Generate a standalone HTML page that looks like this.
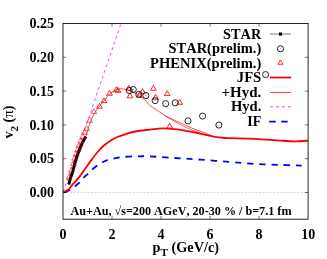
<!DOCTYPE html>
<html><head><meta charset="utf-8"><title>v2</title>
<style>html,body{margin:0;padding:0;background:#fff;overflow:hidden}body{width:327px;height:259px;font-family:"Liberation Serif",serif}</style></head>
<body>
<svg width="327" height="259" viewBox="0 0 327 259" style="display:block">
<rect width="327" height="259" fill="#fff"/>
<defs><clipPath id="c"><rect x="63.0" y="23.5" width="245.1" height="195.7"/></clipPath></defs>
<line x1="63.0" y1="192.4" x2="308.1" y2="192.4" stroke="#b0b0b0" stroke-width="0.5" stroke-dasharray="2 1.5"/>
<g clip-path="url(#c)" fill="none">
<line x1="63.2" y1="192" x2="121.2" y2="23" stroke="#ff40ff" stroke-width="1" stroke-dasharray="3 3"/>
<path d="M63.30 192.60 C63.75 192.47 64.93 192.23 66.00 191.80 C67.07 191.37 68.23 190.90 69.70 190.00 C71.17 189.10 73.18 187.65 74.80 186.40 C76.42 185.15 78.02 183.87 79.40 182.50 C80.78 181.13 81.70 179.65 83.10 178.20 C84.50 176.75 86.48 175.07 87.80 173.80 C89.12 172.53 89.37 172.02 91.00 170.60 C92.63 169.18 95.43 166.82 97.60 165.30 C99.77 163.78 101.93 162.45 104.00 161.50 C106.07 160.55 106.90 160.35 110.00 159.60 C113.10 158.85 117.60 157.55 122.60 157.00 C127.60 156.45 135.43 156.40 140.00 156.30 C144.57 156.20 144.17 156.12 150.00 156.40 C155.83 156.68 166.67 157.47 175.00 158.00 C183.33 158.53 190.83 158.93 200.00 159.60 C209.17 160.27 220.83 161.28 230.00 162.00 C239.17 162.72 246.67 163.42 255.00 163.90 C263.33 164.38 272.22 164.62 280.00 164.90 C287.78 165.18 298.08 165.48 301.70 165.60" stroke="#0000ff" stroke-width="1.8" stroke-dasharray="6.3 5.87" stroke-dashoffset="-1"/>
<path d="M63.30 192.20 C63.75 191.98 65.00 191.47 66.00 190.90 C67.00 190.33 68.22 189.85 69.30 188.80 C70.38 187.75 70.92 186.47 72.50 184.60 C74.08 182.73 76.70 180.23 78.80 177.60 C80.90 174.97 83.02 171.72 85.10 168.80 C87.18 165.88 89.22 162.90 91.30 160.10 C93.38 157.30 95.50 154.43 97.60 152.00 C99.70 149.57 101.82 147.33 103.90 145.50 C105.98 143.67 108.02 142.33 110.10 141.00 C112.18 139.67 114.30 138.47 116.40 137.50 C118.50 136.53 119.60 136.20 122.70 135.20 C125.80 134.20 130.45 132.43 135.00 131.50 C139.55 130.57 145.42 130.13 150.00 129.60 C154.58 129.07 158.33 128.37 162.50 128.30 C166.67 128.23 170.82 128.72 175.00 129.20 C179.18 129.68 183.43 130.45 187.60 131.20 C191.77 131.95 195.83 132.83 200.00 133.70 C204.17 134.57 208.43 135.68 212.60 136.40 C216.77 137.12 221.77 137.70 225.00 138.00 C228.23 138.30 227.00 138.07 232.00 138.20 C237.00 138.33 247.00 138.40 255.00 138.80 C263.00 139.20 273.33 140.18 280.00 140.60 C286.67 141.02 290.25 141.30 295.00 141.30 C299.75 141.30 306.25 140.72 308.50 140.60" stroke="#ff0000" stroke-width="1.8"/>
<path d="M68.80 184.50 C69.08 183.42 69.87 180.08 70.50 178.00 C71.13 175.92 71.98 174.00 72.60 172.00 C73.22 170.00 73.67 168.00 74.20 166.00 C74.73 164.00 75.17 162.08 75.80 160.00 C76.43 157.92 77.20 155.67 78.00 153.50 C78.80 151.33 79.77 149.00 80.60 147.00 C81.43 145.00 82.13 143.23 83.00 141.50 C83.87 139.77 84.97 138.60 85.80 136.60 C86.63 134.60 87.22 132.02 88.00 129.50 C88.78 126.98 89.33 124.33 90.50 121.50 C91.67 118.67 93.42 115.17 95.00 112.50 C96.58 109.83 98.40 107.58 100.00 105.50 C101.60 103.42 102.93 102.00 104.60 100.00 C106.27 98.00 108.05 95.20 110.00 93.50 C111.95 91.80 114.47 90.58 116.30 89.80 C118.13 89.02 119.05 88.77 121.00 88.80 C122.95 88.83 125.67 89.30 128.00 90.00 C130.33 90.70 132.17 91.33 135.00 93.00 C137.83 94.67 142.50 97.92 145.00 100.00 C147.50 102.08 147.08 103.20 150.00 105.50 C152.92 107.80 160.00 112.10 162.50 113.80 C165.00 115.50 162.92 114.58 165.00 115.70 C167.08 116.82 172.43 119.32 175.00 120.50 C177.57 121.68 178.30 121.83 180.40 122.80 C182.50 123.77 185.02 125.15 187.60 126.30 C190.18 127.45 193.23 128.68 195.90 129.70 C198.57 130.72 200.92 131.35 203.60 132.40 C206.28 133.45 210.60 135.40 212.00 136.00" stroke="#ff0000" stroke-width="0.7"/>
<path d="M165.00 115.90 C165.83 116.35 167.83 117.37 170.00 118.60 C172.17 119.83 175.50 121.92 178.00 123.30 C180.50 124.68 182.67 125.78 185.00 126.90 C187.33 128.02 190.17 129.23 192.00 130.00 C193.83 130.77 194.17 130.83 196.00 131.50 C197.83 132.17 200.83 133.28 203.00 134.00 C205.17 134.72 208.00 135.50 209.00 135.80" stroke="#ff0000" stroke-width="0.6"/>
<path d="M68.80 184.50 C69.08 183.42 69.87 180.08 70.50 178.00 C71.13 175.92 71.98 174.00 72.60 172.00 C73.22 170.00 73.67 168.00 74.20 166.00 C74.73 164.00 75.17 162.08 75.80 160.00 C76.43 157.92 77.20 155.67 78.00 153.50 C78.80 151.33 79.77 149.00 80.60 147.00 C81.43 145.00 82.13 143.23 83.00 141.50 C83.87 139.77 85.33 137.42 85.80 136.60" stroke="#000" stroke-width="3"/>
<path d="M69.00 174.19 L66.15 179.05 L71.85 179.05 Z" fill="none" stroke="#ff0000" stroke-width="0.6" stroke-linejoin="round"/>
<path d="M71.30 167.29 L68.45 172.15 L74.15 172.15 Z" fill="none" stroke="#ff0000" stroke-width="0.6" stroke-linejoin="round"/>
<path d="M73.40 160.59 L70.55 165.45 L76.25 165.45 Z" fill="none" stroke="#ff0000" stroke-width="0.6" stroke-linejoin="round"/>
<path d="M74.60 155.19 L71.75 160.05 L77.45 160.05 Z" fill="none" stroke="#ff0000" stroke-width="0.6" stroke-linejoin="round"/>
<path d="M76.30 150.99 L73.45 155.85 L79.15 155.85 Z" fill="none" stroke="#ff0000" stroke-width="0.6" stroke-linejoin="round"/>
<path d="M77.70 146.69 L74.85 151.55 L80.55 151.55 Z" fill="none" stroke="#ff0000" stroke-width="0.6" stroke-linejoin="round"/>
<path d="M79.00 142.39 L76.15 147.25 L81.85 147.25 Z" fill="none" stroke="#ff0000" stroke-width="0.6" stroke-linejoin="round"/>
<path d="M80.90 137.69 L78.05 142.55 L83.75 142.55 Z" fill="none" stroke="#ff0000" stroke-width="0.6" stroke-linejoin="round"/>
<path d="M82.70 133.39 L79.85 138.25 L85.55 138.25 Z" fill="none" stroke="#ff0000" stroke-width="0.6" stroke-linejoin="round"/>
<path d="M84.60 129.39 L81.75 134.25 L87.45 134.25 Z" fill="none" stroke="#ff0000" stroke-width="0.6" stroke-linejoin="round"/>
<path d="M86.50 125.59 L83.65 130.45 L89.35 130.45 Z" fill="none" stroke="#ff0000" stroke-width="0.6" stroke-linejoin="round"/>
<path d="M89.70 117.39 L86.85 122.25 L92.55 122.25 Z" fill="none" stroke="#ff0000" stroke-width="0.6" stroke-linejoin="round"/>
<path d="M93.90 108.69 L91.05 113.55 L96.75 113.55 Z" fill="none" stroke="#ff0000" stroke-width="0.6" stroke-linejoin="round"/>
<path d="M99.50 103.39 L96.65 108.25 L102.35 108.25 Z" fill="none" stroke="#ff0000" stroke-width="0.85" stroke-linejoin="round"/>
<path d="M104.00 97.79 L101.15 102.65 L106.85 102.65 Z" fill="none" stroke="#ff0000" stroke-width="0.85" stroke-linejoin="round"/>
<path d="M109.50 90.39 L106.65 95.25 L112.35 95.25 Z" fill="none" stroke="#ff0000" stroke-width="0.85" stroke-linejoin="round"/>
<path d="M116.30 86.89 L113.45 91.75 L119.15 91.75 Z" fill="none" stroke="#ff0000" stroke-width="0.85" stroke-linejoin="round"/>
<path d="M118.00 87.39 L115.15 92.25 L120.85 92.25 Z" fill="none" stroke="#ff0000" stroke-width="0.85" stroke-linejoin="round"/>
<path d="M128.80 85.39 L125.95 90.25 L131.65 90.25 Z" fill="none" stroke="#ff0000" stroke-width="0.85" stroke-linejoin="round"/>
<path d="M130.00 92.89 L127.15 97.75 L132.85 97.75 Z" fill="none" stroke="#ff0000" stroke-width="0.85" stroke-linejoin="round"/>
<path d="M139.30 92.39 L136.45 97.25 L142.15 97.25 Z" fill="none" stroke="#ff0000" stroke-width="0.85" stroke-linejoin="round"/>
<path d="M142.60 88.69 L139.75 93.55 L145.45 93.55 Z" fill="none" stroke="#ff0000" stroke-width="0.85" stroke-linejoin="round"/>
<path d="M153.40 85.39 L150.55 90.25 L156.25 90.25 Z" fill="none" stroke="#ff0000" stroke-width="0.85" stroke-linejoin="round"/>
<path d="M155.60 94.39 L152.75 99.25 L158.45 99.25 Z" fill="none" stroke="#ff0000" stroke-width="0.85" stroke-linejoin="round"/>
<path d="M167.20 90.69 L164.35 95.55 L170.05 95.55 Z" fill="none" stroke="#ff0000" stroke-width="0.85" stroke-linejoin="round"/>
<path d="M179.70 99.39 L176.85 104.25 L182.55 104.25 Z" fill="none" stroke="#ff0000" stroke-width="0.85" stroke-linejoin="round"/>
<path d="M169.70 123.29 L166.85 128.15 L172.55 128.15 Z" fill="none" stroke="#ff0000" stroke-width="0.85" stroke-linejoin="round"/>
<circle cx="129.30" cy="90.50" r="3.05" fill="none" stroke="#000" stroke-width="0.85"/><circle cx="129.30" cy="90.50" r="0.4" fill="#000"/>
<circle cx="133.30" cy="89.50" r="3.05" fill="none" stroke="#000" stroke-width="0.85"/><circle cx="133.30" cy="89.50" r="0.4" fill="#000"/>
<circle cx="138.80" cy="94.30" r="3.05" fill="none" stroke="#000" stroke-width="0.85"/><circle cx="138.80" cy="94.30" r="0.4" fill="#000"/>
<circle cx="145.90" cy="95.50" r="3.05" fill="none" stroke="#000" stroke-width="0.85"/><circle cx="145.90" cy="95.50" r="0.4" fill="#000"/>
<circle cx="155.10" cy="100.60" r="3.05" fill="none" stroke="#000" stroke-width="0.85"/><circle cx="155.10" cy="100.60" r="0.4" fill="#000"/>
<circle cx="165.70" cy="103.60" r="3.05" fill="none" stroke="#000" stroke-width="0.85"/><circle cx="165.70" cy="103.60" r="0.4" fill="#000"/>
<circle cx="175.20" cy="102.80" r="3.05" fill="none" stroke="#000" stroke-width="0.85"/><circle cx="175.20" cy="102.80" r="0.4" fill="#000"/>
<circle cx="188.00" cy="120.90" r="3.05" fill="none" stroke="#000" stroke-width="0.85"/><circle cx="188.00" cy="120.90" r="0.4" fill="#000"/>
<circle cx="202.60" cy="116.10" r="3.05" fill="none" stroke="#000" stroke-width="0.85"/><circle cx="202.60" cy="116.10" r="0.4" fill="#000"/>
<circle cx="218.90" cy="125.10" r="3.05" fill="none" stroke="#000" stroke-width="0.85"/><circle cx="218.90" cy="125.10" r="0.4" fill="#000"/>
<circle cx="265.60" cy="74.60" r="3.05" fill="none" stroke="#000" stroke-width="0.85"/><circle cx="265.60" cy="74.60" r="0.4" fill="#000"/>
</g>
<rect x="63.0" y="23.5" width="245.1" height="195.7" fill="none" stroke="#000" stroke-width="0.85"/>
<line x1="112.03" y1="219.2" x2="112.03" y2="216.0" stroke="#000" stroke-width="0.55"/>
<line x1="112.03" y1="23.5" x2="112.03" y2="26.7" stroke="#000" stroke-width="0.55"/>
<line x1="161.06" y1="219.2" x2="161.06" y2="216.0" stroke="#000" stroke-width="0.55"/>
<line x1="161.06" y1="23.5" x2="161.06" y2="26.7" stroke="#000" stroke-width="0.55"/>
<line x1="210.09" y1="219.2" x2="210.09" y2="216.0" stroke="#000" stroke-width="0.55"/>
<line x1="210.09" y1="23.5" x2="210.09" y2="26.7" stroke="#000" stroke-width="0.55"/>
<line x1="259.12" y1="219.2" x2="259.12" y2="216.0" stroke="#000" stroke-width="0.55"/>
<line x1="259.12" y1="23.5" x2="259.12" y2="26.7" stroke="#000" stroke-width="0.55"/>
<line x1="63.0" y1="192.50" x2="66.2" y2="192.50" stroke="#000" stroke-width="0.55"/>
<line x1="308.1" y1="192.50" x2="304.9" y2="192.50" stroke="#000" stroke-width="0.55"/>
<line x1="63.0" y1="158.70" x2="66.2" y2="158.70" stroke="#000" stroke-width="0.55"/>
<line x1="308.1" y1="158.70" x2="304.9" y2="158.70" stroke="#000" stroke-width="0.55"/>
<line x1="63.0" y1="124.90" x2="66.2" y2="124.90" stroke="#000" stroke-width="0.55"/>
<line x1="308.1" y1="124.90" x2="304.9" y2="124.90" stroke="#000" stroke-width="0.55"/>
<line x1="63.0" y1="91.10" x2="66.2" y2="91.10" stroke="#000" stroke-width="0.55"/>
<line x1="308.1" y1="91.10" x2="304.9" y2="91.10" stroke="#000" stroke-width="0.55"/>
<line x1="63.0" y1="57.30" x2="66.2" y2="57.30" stroke="#000" stroke-width="0.55"/>
<line x1="308.1" y1="57.30" x2="304.9" y2="57.30" stroke="#000" stroke-width="0.55"/>
<g font-family="'Liberation Serif', serif" font-weight="bold" fill="#000" style="font-kerning:none;filter:grayscale(1)">
<text x="54" y="197.10" font-size="14" text-anchor="end">0.00</text>
<text x="54" y="163.30" font-size="14" text-anchor="end">0.05</text>
<text x="54" y="129.50" font-size="14" text-anchor="end">0.10</text>
<text x="54" y="95.70" font-size="14" text-anchor="end">0.15</text>
<text x="54" y="61.90" font-size="14" text-anchor="end">0.20</text>
<text x="54" y="28.10" font-size="14" text-anchor="end">0.25</text>
<text x="63.00" y="239.1" font-size="14" text-anchor="middle">0</text>
<text x="112.03" y="239.1" font-size="14" text-anchor="middle">2</text>
<text x="161.06" y="239.1" font-size="14" text-anchor="middle">4</text>
<text x="210.09" y="239.1" font-size="14" text-anchor="middle">6</text>
<text x="259.12" y="239.1" font-size="14" text-anchor="middle">8</text>
<text x="308.15" y="239.1" font-size="14" text-anchor="middle">10</text>
<text x="223.10" y="38.80" font-size="14" textLength="38.2" lengthAdjust="spacingAndGlyphs">STAR</text>
<text x="168.50" y="53.30" font-size="14" textLength="92.8" lengthAdjust="spacingAndGlyphs">STAR(prelim.)</text>
<text x="150.00" y="67.70" font-size="14" textLength="111.3" lengthAdjust="spacingAndGlyphs">PHENIX(prelim.)</text>
<text x="236.80" y="82.30" font-size="14" textLength="24.5" lengthAdjust="spacingAndGlyphs">JFS</text>
<text x="221.60" y="96.80" font-size="14" textLength="39.7" lengthAdjust="spacingAndGlyphs">+Hyd.</text>
<text x="230.90" y="111.30" font-size="14" textLength="30.4" lengthAdjust="spacingAndGlyphs">Hyd.</text>
<text x="247.30" y="125.60" font-size="14" textLength="14.0" lengthAdjust="spacingAndGlyphs">IF</text>
<text x="70.5" y="214.7" font-size="12" textLength="221" lengthAdjust="spacingAndGlyphs">Au+Au, <tspan font-weight="normal">&#8730;</tspan>s=200 AGeV, 20-30 % / b=7.1 fm</text>
<text x="152.5" y="251.7" font-size="14" textLength="66.5" lengthAdjust="spacingAndGlyphs">p<tspan font-size="11" dy="4.1">T</tspan><tspan dy="-4.1"> (GeV/c)</tspan></text>
<text transform="translate(13,138.5) rotate(-90)" font-size="14">v<tspan font-size="11" dy="5.2">2</tspan><tspan dy="-5.2"> (<tspan font-weight="normal" font-size="15">&#960;</tspan>)</tspan></text>
</g>
<line x1="270" y1="34.05" x2="291" y2="34.05" stroke="#555" stroke-width="0.8"/>
<rect x="278.95" y="32.5" width="3.1" height="3.1" fill="#000"/>
<circle cx="280.50" cy="48.80" r="3.05" fill="none" stroke="#000" stroke-width="0.85"/><circle cx="280.50" cy="48.80" r="0.4" fill="#000"/>
<path d="M280.50 60.04 L278.03 64.25 L282.97 64.25 Z" fill="none" stroke="#ff0000" stroke-width="0.85" stroke-linejoin="round"/>
<line x1="270" y1="77.5" x2="291" y2="77.5" stroke="#ff0000" stroke-width="1.8"/>
<line x1="270" y1="92.4" x2="291" y2="92.4" stroke="#ff0000" stroke-width="0.8"/>
<line x1="270" y1="106.8" x2="291" y2="106.8" stroke="#ff40ff" stroke-width="1" stroke-dasharray="3 3"/>
<line x1="269.2" y1="121.6" x2="291" y2="121.6" stroke="#0000ff" stroke-width="1.8" stroke-dasharray="6.5 5.5"/>
</svg>
</body></html>
